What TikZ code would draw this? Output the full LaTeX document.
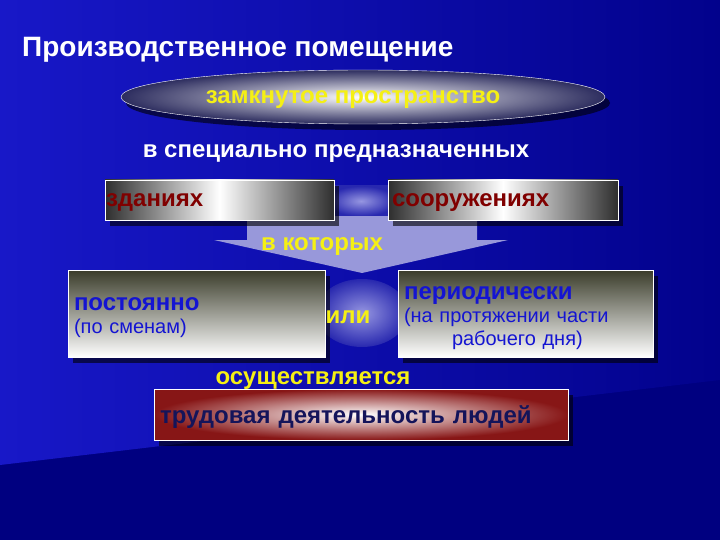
\documentclass[tikz,border=0pt]{standalone}
\usepackage{fontspec}
\setmainfont{Liberation Sans}
\usetikzlibrary{shapes.geometric,shadows,positioning}
\definecolor{bgnavy}{RGB}{0,0,128}
\definecolor{bgblue}{RGB}{24,24,200}
\definecolor{bgmid}{RGB}{2,2,140}
\definecolor{txtyellow}{RGB}{245,240,20}
\definecolor{txtred}{RGB}{128,0,0}
\definecolor{txtblue}{RGB}{20,20,210}
\definecolor{txtnavy}{RGB}{20,20,90}
\definecolor{ovalrim}{RGB}{45,45,95}
\definecolor{boxolive}{RGB}{58,60,42}
\definecolor{boxred}{RGB}{135,22,22}
\definecolor{linkblue}{RGB}{150,150,225}
\definecolor{linkedge}{RGB}{40,40,175}
\definecolor{arrowfill}{RGB}{152,152,218}
\tikzset{
  bigtext/.style={font=\fontsize{24}{28}\selectfont\bfseries, inner sep=0pt},
  boxshadow/.style={drop shadow={shadow xshift=5pt, shadow yshift=-6pt, fill=black, opacity=0.6}},
  oval/.style={ellipse, draw=white, thin, inner color=white, outer color=ovalrim, boxshadow, text depth=0pt},
  placebox/.style={rectangle, draw=white, thin, left color=black!82, right color=black!82, middle color=white, boxshadow,
    text=txtred, font=\fontsize{24}{28}\selectfont\bfseries, align=left, inner xsep=1pt, text depth=0pt},
  modebox/.style={rectangle, draw=white, thin, top color=boxolive, bottom color=white, boxshadow,
    text=txtblue, font=\fontsize{20}{23}\selectfont, align=left, inner xsep=6pt},
  workbox/.style={rectangle, draw=white, thin, inner color=white, outer color=boxred, boxshadow,
    text=txtnavy, font=\fontsize{24}{28}\selectfont\bfseries, align=left, inner xsep=6pt, text depth=0pt},
  link/.style={inner color=linkblue, outer color=linkedge}
}
\newcommand{\modehead}[1]{{\fontsize{24}{26}\selectfont\bfseries\rule{0pt}{22pt}#1}}
\begin{document}
\begin{tikzpicture}[x=1pt,y=-1pt]
\useasboundingbox (0,0) rectangle (720,540);
% background
\fill[bgnavy] (0,0) rectangle (720,540);
\shade[left color=bgblue, right color=bgmid] (0,0) -- (720,0) -- (720,380) -- (0,465) -- cycle;

\node[bigtext, font=\fontsize{28}{32}\selectfont\bfseries, white, anchor=west] (title) at (22,50) {Производственное помещение};
\node[oval, minimum width=484pt, minimum height=54pt, text=txtyellow, font=\fontsize{24}{28}\selectfont\bfseries] (space) at (363,97) {замкнутое пространство\hspace*{20pt}};
\node[bigtext, white] (purpose) at (336,154) {в специально предназначенных};

% big arrow behind the boxes
\coordinate (tip) at (362,273);
\fill[arrowfill] (247,190) -- (477,190) -- (477,240) -- (508,240) -- (tip) -- (214,240) -- (247,240) -- cycle;
\node[link, rectangle, minimum width=70pt, minimum height=30pt] (andlink) at (361,201) {};
\node[link, ellipse, minimum width=92pt, minimum height=68pt] (orlink) at (362,313) {};

\node[placebox, minimum width=229pt, minimum height=40pt, text width=227pt] (buildings) at (219.5,200) {зданиях};
\node[placebox, minimum width=228pt, minimum height=40pt, text width=222pt, inner xsep=4pt] (structures) at (503,200) {сооружениях};
\node[bigtext, txtyellow] (which) at (322,247) {в которых};

\node[modebox, minimum width=257pt, minimum height=87pt, text width=245pt] (constant) at (196.5,313.5)
  {\modehead{постоянно}\\(по сменам)};
\node[modebox, minimum width=255pt, minimum height=87pt, text width=243pt] (periodic) at (525.5,313.5)
  {\modehead{периодически}\\(на протяжении части\\\hspace*{48pt}рабочего дня)};
\node[bigtext, txtyellow] (or) at (348,317) {или};

\node[bigtext, txtyellow] (done) at (313,381) {осуществляется};
\node[workbox, minimum width=414pt, minimum height=51pt, text width=402pt] (work) at (361,414.5) {трудовая деятельность людей};
\end{tikzpicture}
\end{document}
